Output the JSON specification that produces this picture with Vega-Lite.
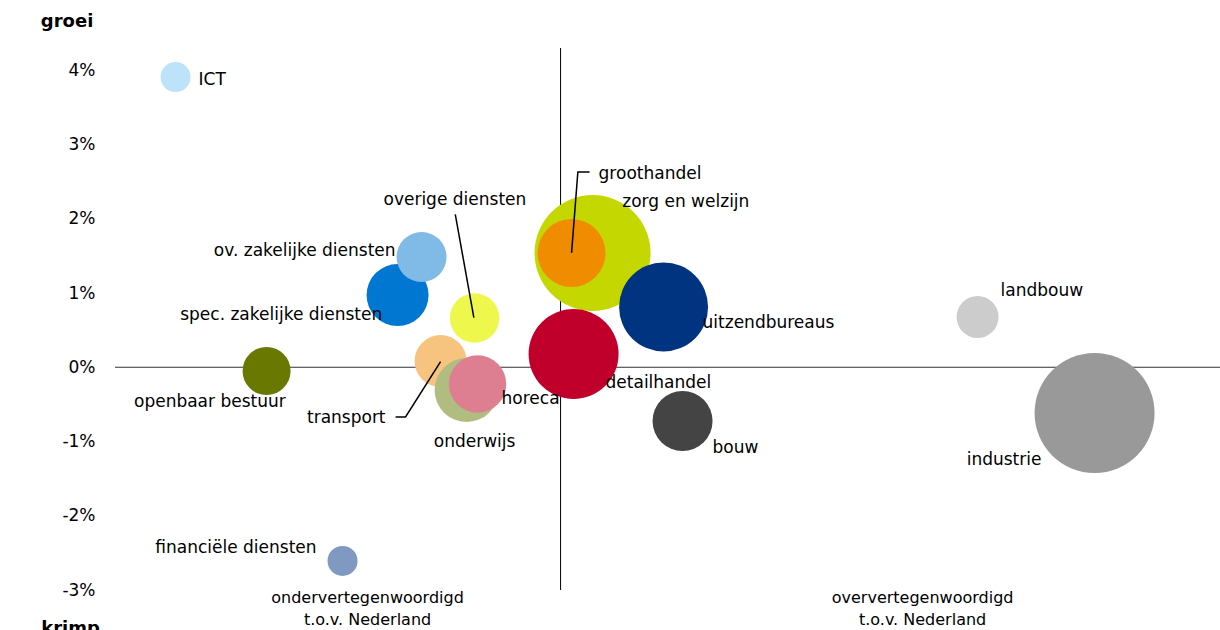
{
  "$schema": "https://vega.github.io/schema/vega-lite/v6.json",
  "width": 1105,
  "height": 542,
  "autosize": {"type": "none"},
  "padding": {"left": 115, "top": 48, "right": 0, "bottom": 40},
  "background": "white",
  "config": {"view": {"stroke": null}, "font": "DejaVu Sans"},
  "datasets": {
    "sectoren": [
      {"sector": "openbaar bestuur", "index": 34.02, "groei": -0.05, "omvang": 57.6},
      {"sector": "financiële diensten", "index": 51.07, "groei": -2.609, "omvang": 22.5},
      {"sector": "ICT", "index": 13.59, "groei": 3.909, "omvang": 22.5},
      {"sector": "spec. zakelijke diensten", "index": 63.42, "groei": 0.973, "omvang": 96.1},
      {"sector": "ov. zakelijke diensten", "index": 68.8, "groei": 1.485, "omvang": 62.5},
      {"sector": "overige diensten", "index": 80.7, "groei": 0.663, "omvang": 61},
      {"sector": "transport", "index": 73.07, "groei": 0.084, "omvang": 67.6},
      {"sector": "onderwijs", "index": 78.91, "groei": -0.307, "omvang": 102.4},
      {"sector": "horeca", "index": 81.37, "groei": -0.226, "omvang": 82.4},
      {"sector": "zorg en welzijn", "index": 107.18, "groei": 1.539, "omvang": 336.4},
      {"sector": "groothandel", "index": 102.47, "groei": 1.539, "omvang": 115.6},
      {"sector": "uitzendbureaus", "index": 123.12, "groei": 0.812, "omvang": 198},
      {"sector": "detailhandel", "index": 102.92, "groei": 0.179, "omvang": 202.5},
      {"sector": "bouw", "index": 127.38, "groei": -0.724, "omvang": 90},
      {"sector": "landbouw", "index": 193.59, "groei": 0.677, "omvang": 44.1},
      {"sector": "industrie", "index": 219.85, "groei": -0.616, "omvang": 360}
    ],
    "labels_links": [
      {"sector": "ICT", "index": 18.75, "groei": 3.869},
      {"sector": "groothandel", "index": 108.53, "groei": 2.603},
      {"sector": "zorg en welzijn", "index": 113.85, "groei": 2.23},
      {"sector": "uitzendbureaus", "index": 131.87, "groei": 0.596},
      {"sector": "detailhandel", "index": 110.1, "groei": -0.212},
      {"sector": "bouw", "index": 134.11, "groei": -1.088},
      {"sector": "landbouw", "index": 198.74, "groei": 1.027},
      {"sector": "horeca", "index": 86.76, "groei": -0.427}
    ],
    "labels_rechts": [
      {"sector": "ov. zakelijke diensten", "index": 62.97, "groei": 1.57},
      {"sector": "spec. zakelijke diensten", "index": 59.98, "groei": 0.704},
      {"sector": "transport", "index": 60.72, "groei": -0.683},
      {"sector": "financiële diensten", "index": 45.24, "groei": -2.434}
    ],
    "labels_midden": [
      {"sector": "industrie", "index": 199.54, "groei": -1.249},
      {"sector": "overige diensten", "index": 76.28, "groei": 2.253},
      {"sector": "openbaar bestuur", "index": 21.29, "groei": -0.464},
      {"sector": "onderwijs", "index": 80.7, "groei": -1.003}
    ],
    "verwijzingen": [
      {"lijn": "groothandel", "volg": 1, "index": 102.47, "groei": 1.54},
      {"lijn": "groothandel", "volg": 2, "index": 103.88, "groei": 2.63},
      {"lijn": "groothandel", "volg": 3, "index": 106.51, "groei": 2.63},
      {"lijn": "overige diensten", "volg": 1, "index": 76.37, "groei": 2.06},
      {"lijn": "overige diensten", "volg": 2, "index": 80.54, "groei": 0.67},
      {"lijn": "transport", "volg": 1, "index": 62.97, "groei": -0.67},
      {"lijn": "transport", "volg": 2, "index": 65.21, "groei": -0.67},
      {"lijn": "transport", "volg": 3, "index": 73.07, "groei": 0.075}
    ],
    "aslabels": [
      {"tekst": "ondervertegenwoordigd", "index": 56.68, "groei": -3.108},
      {"tekst": "t.o.v. Nederland", "index": 56.68, "groei": -3.404},
      {"tekst": "oververtegenwoordigd", "index": 181.25, "groei": -3.108},
      {"tekst": "t.o.v. Nederland", "index": 181.25, "groei": -3.404}
    ],
    "richting": [
      {"tekst": "groei", "index": -10.76, "groei": 4.65},
      {"tekst": "krimp", "index": -9.97, "groei": -3.525}
    ]
  },
  "layer": [
    {
      "data": {"values": [{}]},
      "mark": {"type": "rule", "color": "#333333", "strokeWidth": 1.2},
      "encoding": {
        "y": {"datum": 0, "type": "quantitative",
          "scale": {"domain": [-3, 4.3], "nice": false, "zero": false},
          "axis": {"values": [-3, -2, -1, 0, 1, 2, 3, 4], "labelExpr": "datum.value + '%'", "grid": false, "domain": false, "ticks": false, "labelPadding": 20, "labelFontSize": 17, "labelColor": "#000000", "labelFont": "DejaVu Sans", "title": null}}
      }
    },
    {
      "data": {"values": [{}]},
      "mark": {"type": "rule", "color": "#000000", "strokeWidth": 1},
      "encoding": {
        "x": {"datum": 100, "type": "quantitative", "scale": {"domain": [0, 248], "nice": false, "zero": false}, "axis": null}
      }
    },
    {
      "data": {"name": "sectoren"},
      "mark": {"type": "circle", "opacity": 1, "strokeWidth": 0},
      "encoding": {
        "x": {"field": "index", "type": "quantitative", "scale": {"domain": [0, 248], "nice": false, "zero": false}, "axis": null},
        "y": {"field": "groei", "type": "quantitative", "scale": {"domain": [-3, 4.3], "nice": false, "zero": false}},
        "size": {"field": "omvang", "type": "quantitative", "scale": {"domain": [0, 100], "range": [0, 4000], "zero": true}, "legend": null},
        "color": {"field": "sector", "type": "nominal", "legend": null,
          "scale": {
            "domain": ["ICT", "groothandel", "zorg en welzijn", "uitzendbureaus", "detailhandel", "bouw", "landbouw", "industrie", "ov. zakelijke diensten", "spec. zakelijke diensten", "overige diensten", "openbaar bestuur", "transport", "onderwijs", "horeca", "financiële diensten"],
            "range": ["#BDE3FA", "#F08C00", "#C5D700", "#003380", "#C0002B", "#444444", "#CCCCCC", "#999999", "#80BAE6", "#0078D2", "#EEF74B", "#697800", "#F7C480", "#B1BD80", "#DE7F91", "#7F99C0"]
          }}
      }
    },
    {
      "data": {"name": "verwijzingen"},
      "mark": {"type": "line", "color": "#000000", "strokeWidth": 1.5},
      "encoding": {
        "x": {"field": "index", "type": "quantitative", "scale": {"domain": [0, 248], "nice": false, "zero": false}, "axis": null},
        "y": {"field": "groei", "type": "quantitative", "scale": {"domain": [-3, 4.3], "nice": false, "zero": false}},
        "detail": {"field": "lijn", "type": "nominal"},
        "order": {"field": "volg", "type": "quantitative"}
      }
    },
    {
      "data": {"name": "labels_links"},
      "mark": {"type": "text", "align": "left", "baseline": "middle", "fontSize": 17, "color": "#000000"},
      "encoding": {
        "x": {"field": "index", "type": "quantitative", "scale": {"domain": [0, 248], "nice": false, "zero": false}, "axis": null},
        "y": {"field": "groei", "type": "quantitative", "scale": {"domain": [-3, 4.3], "nice": false, "zero": false}},
        "text": {"field": "sector", "type": "nominal"}
      }
    },
    {
      "data": {"name": "labels_rechts"},
      "mark": {"type": "text", "align": "right", "baseline": "middle", "fontSize": 17, "color": "#000000"},
      "encoding": {
        "x": {"field": "index", "type": "quantitative", "scale": {"domain": [0, 248], "nice": false, "zero": false}, "axis": null},
        "y": {"field": "groei", "type": "quantitative", "scale": {"domain": [-3, 4.3], "nice": false, "zero": false}},
        "text": {"field": "sector", "type": "nominal"}
      }
    },
    {
      "data": {"name": "labels_midden"},
      "mark": {"type": "text", "align": "center", "baseline": "middle", "fontSize": 17, "color": "#000000"},
      "encoding": {
        "x": {"field": "index", "type": "quantitative", "scale": {"domain": [0, 248], "nice": false, "zero": false}, "axis": null},
        "y": {"field": "groei", "type": "quantitative", "scale": {"domain": [-3, 4.3], "nice": false, "zero": false}},
        "text": {"field": "sector", "type": "nominal"}
      }
    },
    {
      "data": {"name": "aslabels"},
      "mark": {"type": "text", "align": "center", "baseline": "middle", "fontSize": 16, "color": "#000000"},
      "encoding": {
        "x": {"field": "index", "type": "quantitative", "scale": {"domain": [0, 248], "nice": false, "zero": false}, "axis": null},
        "y": {"field": "groei", "type": "quantitative", "scale": {"domain": [-3, 4.3], "nice": false, "zero": false}},
        "text": {"field": "tekst", "type": "nominal"}
      }
    },
    {
      "data": {"name": "richting"},
      "mark": {"type": "text", "align": "center", "baseline": "middle", "fontSize": 18, "fontWeight": "bold", "color": "#000000"},
      "encoding": {
        "x": {"field": "index", "type": "quantitative", "scale": {"domain": [0, 248], "nice": false, "zero": false}, "axis": null},
        "y": {"field": "groei", "type": "quantitative", "scale": {"domain": [-3, 4.3], "nice": false, "zero": false}},
        "text": {"field": "tekst", "type": "nominal"}
      }
    }
  ]
}
